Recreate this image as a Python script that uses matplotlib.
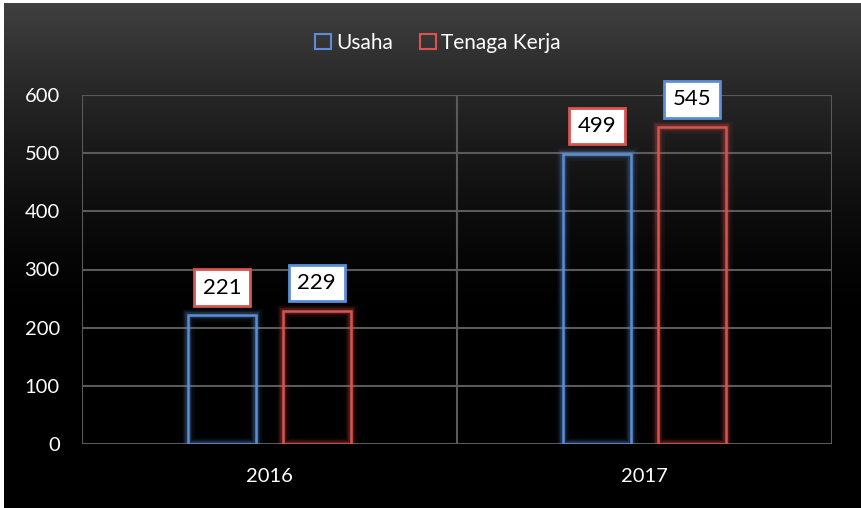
import matplotlib
matplotlib.use("Agg")
import matplotlib.pyplot as plt
import numpy as np
from matplotlib.patches import Rectangle

categories = ["2016", "2017"]
series_names = ["Usaha", "Tenaga Kerja"]
usaha = [221, 499]
tenaga_kerja = [229, 545]
yticks = [0, 100, 200, 300, 400, 500, 600]

blue = "#5b8ed6"
red = "#d9534f"
font = "Lato"

W, H = 861, 508
fig = plt.figure(figsize=(W / 100, H / 100), dpi=100, facecolor="white")

# background gradient panel
bg = fig.add_axes([4 / W, 0, 1 - 4 / W, 1 - 3 / H])
bg.set_axis_off()
n = 505
ypx = np.arange(n)
g = 0.25 * np.clip(1 - ypx / 320.0, 0, 1) ** 1.5
img = np.repeat(g[:, None], 2, axis=1)
bg.imshow(np.dstack([img, img, img]), aspect="auto", extent=[0, 1, 0, 1], origin="upper")
bg.set_xlim(0, 1); bg.set_ylim(0, 1)

ax = fig.add_axes([82 / W, 1 - 444 / H, (832 - 82) / W, (444 - 95) / H])
ax.patch.set_alpha(0)
x = np.arange(len(categories))
width = 0.181
offs = [-0.127, 0.126]

for vals, off, col, lblcol in [(usaha, offs[0], blue, red), (tenaga_kerja, offs[1], red, blue)]:
    for xi, v in zip(x, vals):
        # glow
        for lw, a in [(9, 0.07), (6, 0.12), (4, 0.2)]:
            ax.add_patch(Rectangle((xi + off - width / 2, 0), width, v, fill=False,
                                   edgecolor=col, linewidth=lw, alpha=a, zorder=3))
        ax.add_patch(Rectangle((xi + off - width / 2, 0), width, v, facecolor="none",
                               edgecolor=col, linewidth=1.8, zorder=4))
        ax.annotate(str(v), (xi + off, v), xytext=(0, 20), textcoords="offset points",
                    ha="center", va="center", fontsize=16, family=font, color="black",
                    bbox=dict(boxstyle="square,pad=0.38", facecolor="white", edgecolor=lblcol,
                              linewidth=2), zorder=6)

ax.set_xlim(-0.5, 1.5)
ax.set_ylim(0, 600)
ax.set_yticks(yticks)
ax.set_yticklabels([str(v) for v in yticks])
ax.set_xticks(x)
ax.set_xticklabels(categories)
ax.tick_params(colors="white", labelsize=14.5, length=0)
ax.tick_params(axis="y", pad=16)
ax.tick_params(axis="x", pad=17)
for lbl in ax.get_xticklabels() + ax.get_yticklabels():
    lbl.set_family(font)
    lbl.set_color("white")
for yv in yticks:
    ax.axhline(yv, color="#5a5a5a", linewidth=1.5, zorder=1)
for xv in [-0.5, 0.5, 1.5]:
    ax.axvline(xv, color="#5a5a5a", linewidth=1.5, zorder=1)
for s in ax.spines.values():
    s.set_visible(False)

handles = [Rectangle((0, 0), 1, 1, facecolor="none", edgecolor=blue, linewidth=1.5),
           Rectangle((0, 0), 1, 1, facecolor="none", edgecolor=red, linewidth=1.5)]
leg = fig.legend(handles, series_names, loc="center", bbox_to_anchor=(438 / W, 1 - 43 / H),
                 ncol=2, frameon=False, prop={"family": font, "size": 15},
                 handlelength=0.75, handleheight=0.75, handletextpad=0.25, columnspacing=1.3)
for txt in leg.get_texts():
    txt.set_color("white")

fig.savefig("out.png", dpi=100, facecolor="white")
